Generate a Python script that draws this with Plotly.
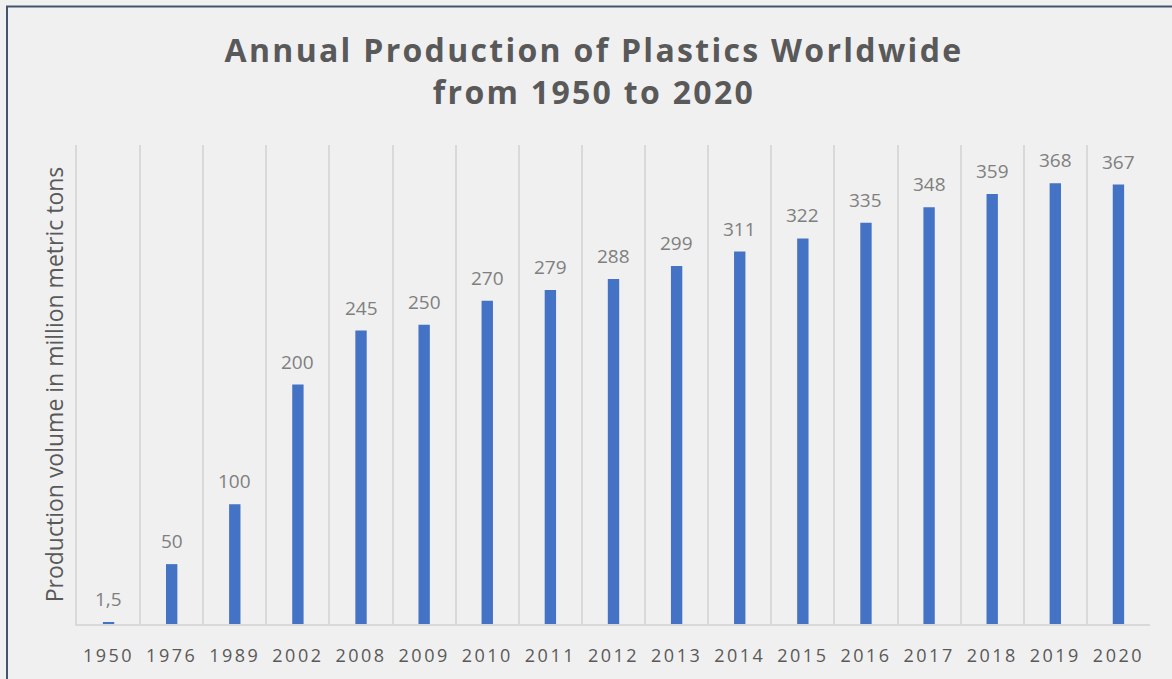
import plotly.graph_objects as go

years = ["1950", "1976", "1989", "2002", "2008", "2009", "2010", "2011", "2012",
         "2013", "2014", "2015", "2016", "2017", "2018", "2019", "2020"]
production = [1.5, 50, 100, 200, 245, 250, 270, 279, 288, 299, 311, 322, 335, 348, 359, 368, 367]
labels = ["1,5", "50", "100", "200", "245", "250", "270", "279", "288", "299",
          "311", "322", "335", "348", "359", "368", "367"]

FONT = "Open Sans"

fig = go.Figure(go.Bar(
    x=years, y=production,
    marker=dict(color="#4472C4", line=dict(width=0)),
    cliponaxis=False, hoverinfo="x+y",
))

W, H = 1172, 679
ml, mr, mt, mb = 77, 22, 145, 53
pw, ph = W - ml - mr, H - mt - mb

# category index positions for the value labels
annotations = [
    dict(x=i, y=v, text=t, xref="x", yref="y", showarrow=False,
         yanchor="bottom", yshift=8,
         font=dict(family=FONT, size=19, color="#7f7f7f"))
    for i, (v, t) in enumerate(zip(production, labels))
]

fig.update_layout(
    width=W, height=H,
    margin=dict(l=ml, r=mr, t=mt, b=mb),
    paper_bgcolor="#f0f0f0", plot_bgcolor="#f0f0f0",
    bargap=0.82,
    showlegend=False,
    annotations=annotations,
    title=dict(
        text="Annual Production of Plastics Worldwide<br>from 1950 to 2020",
        x=594 / W, xanchor="center", y=1 - 62 / H, yanchor="middle",
        font=dict(family=FONT, size=32, color="#595959", weight="bold"),
    ),
    xaxis=dict(
        type="category", range=[-0.5, len(years) - 0.5], tickangle=0,
        tickson="boundaries", showgrid=True,
        gridcolor="#d9d9d9", gridwidth=1.5, ticks="", showline=True,
        linecolor="#d9d9d9", linewidth=2, ticklabelstandoff=14,
        tickfont=dict(family=FONT, size=18, color="#595959"),
    ),
    yaxis=dict(
        range=[0, 400], showgrid=False, showticklabels=False, zeroline=False,
        showline=True, linecolor="#d9d9d9", linewidth=1.5,
        title=dict(text="Production volume in million metric tons",
                   font=dict(family=FONT, size=23, color="#595959"), standoff=5),
    ),
    shapes=[dict(
        type="rect", xref="paper", yref="paper",
        x0=(7 - ml) / pw, x1=(W + 5 - ml) / pw,
        y0=-(H + 5 - (H - mb)) / ph, y1=(H - mb - 6) / ph,
        line=dict(color="#44546a", width=2), fillcolor="rgba(0,0,0,0)", layer="above",
    )],
)

css = """
var s=document.createElement('style');
s.innerHTML='.xtick text{letter-spacing:2.5px;} .gtitle{letter-spacing:2.3px;}';
document.head.appendChild(s);
"""
fig.write_html("out.html", post_script=css)
